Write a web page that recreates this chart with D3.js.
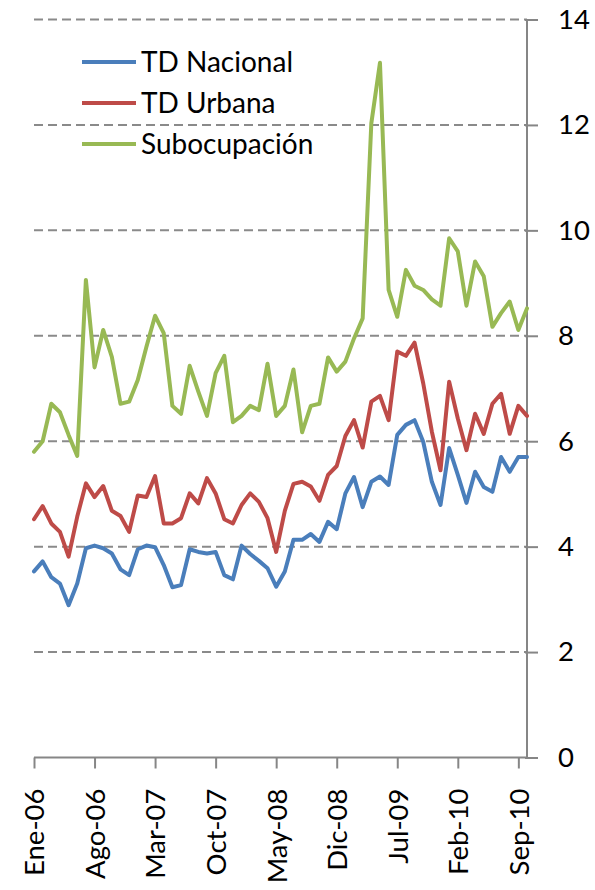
<!DOCTYPE html>
<html>
<head>
<meta charset="utf-8">
<script src="https://cdn.jsdelivr.net/npm/d3@7"></script>
<style>
  html, body { margin: 0; padding: 0; background: #ffffff; }
  svg { display: block; font-family: Lato, "Liberation Sans", sans-serif; }
</style>
</head>
<body>
<div id="chart"></div>
<script>
// ---- Data ----
const monthNames = ["Ene","Feb","Mar","Abr","May","Jun","Jul","Ago","Sep","Oct","Nov","Dic"];
const years = ["06","07","08","09","10"];
const categories = [];
years.forEach(yr => monthNames.forEach(m => categories.push(m + "-" + yr)));
categories.length = 58; // Ene-06 .. Oct-10

const tickLabels = ["Ene-06","Ago-06","Mar-07","Oct-07","May-08","Dic-08","Jul-09","Feb-10","Sep-10"];
const yTicks = [0, 2, 4, 6, 8, 10, 12, 14];

const seriesNames = ["TD Nacional", "TD Urbana", "Subocupación"];
const tdNacional = [3.53,3.72,3.42,3.30,2.89,3.30,3.97,4.02,3.97,3.87,3.57,3.46,3.95,4.02,3.99,3.65,3.23,3.27,3.95,3.90,3.87,3.90,
  3.46,3.38,4.02,3.86,3.73,3.59,3.24,3.53,4.13,4.13,4.24,4.09,4.47,4.33,5.01,5.32,4.75,5.23,5.33,
  5.17,6.12,6.31,6.40,5.99,5.23,4.79,5.87,5.36,4.83,5.42,5.13,5.04,5.70,5.42,5.70,5.70];
const tdUrbana = [4.52,4.77,4.44,4.28,3.81,4.57,5.20,4.94,5.15,4.68,4.58,4.28,4.97,4.94,5.34,4.44,4.44,4.54,5.01,4.82,5.30,5.01,
  4.52,4.44,4.79,5.01,4.85,4.54,3.90,4.68,5.19,5.23,5.14,4.87,5.36,5.53,6.10,6.40,5.88,6.75,6.86,
  6.40,7.70,7.62,7.87,7.10,6.18,5.45,7.13,6.43,5.83,6.52,6.14,6.71,6.90,6.14,6.67,6.48];
const subocupacion = [5.80,6.00,6.71,6.55,6.12,5.72,9.06,7.40,8.11,7.60,6.71,6.75,7.16,7.79,8.38,8.05,6.67,6.52,7.43,6.94,6.48,7.29,
  7.62,6.36,6.48,6.67,6.59,7.47,6.48,6.67,7.36,6.17,6.67,6.71,7.59,7.32,7.51,7.95,8.33,
  12.03,13.18,8.87,8.36,9.25,8.95,8.87,8.69,8.57,9.85,9.60,8.57,9.41,9.13,8.17,8.43,8.65,8.11,8.52];
const seriesColors = ["#4A7EBB", "#BE4B48", "#98B954"];

// ---- Layout ----
const W = 595, H = 890;
const plotLeft = 34, plotRight = 527, plotTop = 19.5, plotBottom = 757.5;

const svg = d3.select("#chart").append("svg").attr("width", W).attr("height", H);

const x = d3.scalePoint().domain(categories).range([plotLeft, plotRight]).padding(0);
const y = d3.scaleLinear().domain([0, 14]).range([plotBottom, plotTop]);

// gridlines
svg.append("g").selectAll("line")
  .data(yTicks.filter(t => t > 0))
  .join("line")
  .attr("x1", plotLeft).attr("x2", plotRight)
  .attr("y1", d => y(d)).attr("y2", d => y(d))
  .attr("stroke", "#8a8a8a").attr("stroke-width", 2)
  .attr("stroke-dasharray", "9,5");

// y axis (right)
const yAxis = d3.axisRight(y).tickValues(yTicks).tickSize(11).tickPadding(20).tickFormat(d3.format("d"));
const gy = svg.append("g").attr("transform", `translate(${plotRight},0)`).call(yAxis);
gy.select(".domain").attr("stroke", "#868686").attr("stroke-width", 2).attr("d", `M0,${plotTop}V${plotBottom}`);
gy.selectAll(".tick line").attr("stroke", "#868686").attr("stroke-width", 2).attr("x1", -2);
gy.selectAll(".tick text").attr("font-size", 27.5).attr("fill", "#000").attr("font-family", "Lato");

// x axis
const xAxis = d3.axisBottom(x).tickValues(tickLabels).tickSize(11).tickFormat(d => d);
const gx = svg.append("g").attr("transform", `translate(0,${plotBottom})`).call(xAxis);
gx.select(".domain").attr("stroke", "#868686").attr("stroke-width", 2).attr("d", `M${plotLeft},0H${plotRight}`);
gx.selectAll(".tick line").attr("stroke", "#868686").attr("stroke-width", 2);
gx.selectAll(".tick text")
  .attr("font-size", 27.5).attr("fill", "#000").attr("font-family", "Lato")
  .attr("text-anchor", "end")
  .attr("transform", "translate(0,31) rotate(-90)")
  .attr("x", 0).attr("y", 0).attr("dy", "0.36em");

// lines
const allSeries = [tdNacional, tdUrbana, subocupacion];
const line = d3.line().x((d, i) => x(categories[i])).y(d => y(d));
allSeries.forEach((s, k) => {
  svg.append("path").datum(s)
    .attr("fill", "none").attr("stroke", seriesColors[k])
    .attr("stroke-width", 4).attr("stroke-linejoin", "round").attr("stroke-linecap", "round")
    .attr("d", line);
});

// legend
const lg = svg.append("g");
seriesNames.forEach((n, k) => {
  const ly = 62 + k * 41;
  lg.append("line").attr("x1", 82).attr("x2", 136).attr("y1", ly).attr("y2", ly)
    .attr("stroke", seriesColors[k]).attr("stroke-width", 4);
  lg.append("text").attr("x", 141).attr("y", ly).attr("dy", "0.36em")
    .attr("font-size", 28).attr("font-family", "Lato").attr("fill", "#000").text(n);
});
</script>
</body>
</html>
